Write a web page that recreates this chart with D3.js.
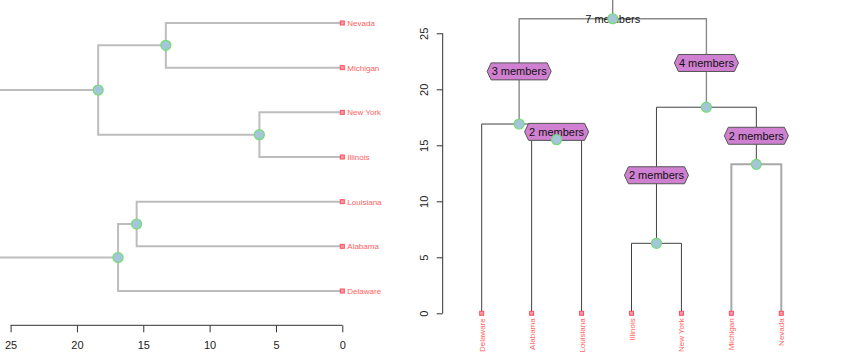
<!DOCTYPE html>
<html>
<head>
<meta charset="utf-8">
<script src="https://cdn.jsdelivr.net/npm/d3@7"></script>
<style>
  body { margin: 0; background: #fff; }
  svg { display: block; font-family: "Liberation Sans", Arial, sans-serif; }
</style>
</head>
<body>
<svg id="chart" width="842" height="353"></svg>
<script>
// ---- data ----
const leaves = ["Delaware", "Alabama", "Louisiana", "Illinois", "New York", "Michigan", "Nevada"];
// merges: [left, right, height]; negative = leaf index (1-based), positive = earlier merge (1-based)
const mergeLeft   = [-4, -6, -2, -1, 1, 4];
const mergeRight  = [-5, -7, -3, 3, 2, 5];
const mergeHeight = [6.25, 13.3, 15.5, 16.9, 18.4, 26.3];
const leftTicks  = [25, 20, 15, 10, 5, 0];
const rightTicks = [0, 5, 10, 15, 20, 25];

// ---- build tree ----
function build(ref) {
  if (ref < 0) return { name: leaves[-ref - 1], height: 0 };
  const i = ref - 1;
  return { name: "m" + ref, height: mergeHeight[i], children: [build(mergeLeft[i]), build(mergeRight[i])] };
}
const rootData = build(mergeHeight.length);
const root = d3.hierarchy(rootData);

const svg = d3.select("#chart");
const labelColor = "#ff6262";

// ================= LEFT PANEL (horizontal) =================
const lx = d3.scaleLinear().domain([0, 25]).range([342.3, 10.6]);
const ly = d3.scalePoint().domain(leaves).range([291, 23]);

function leftPos(n) {
  if (!n.children) { n.lp = [lx(0), ly(n.data.name)]; }
  else {
    n.children.forEach(leftPos);
    n.lp = [lx(n.data.height), d3.mean(n.children, c => c.lp[1])];
  }
}
leftPos(root);

const gL = svg.append("g");
root.descendants().filter(n => n.parent).forEach(n => {
  const p = n.parent;
  gL.append("path")
    .attr("d", `M${p.lp[0]},${p.lp[1]}V${n.lp[1]}H${n.lp[0]}`)
    .attr("fill", "none").attr("stroke", "#bdbdbd").attr("stroke-width", 2);
});
root.descendants().filter(n => n.children).forEach(n => {
  gL.append("circle").attr("cx", n.lp[0]).attr("cy", n.lp[1]).attr("r", 5)
    .attr("fill", "#a3c6d8").attr("stroke", "#74dc74").attr("stroke-width", 1.2);
});
root.leaves().forEach(n => {
  gL.append("rect").attr("x", n.lp[0] - 2).attr("y", n.lp[1] - 2).attr("width", 4).attr("height", 4)
    .attr("fill", "#ff9aa6").attr("stroke", "#ff4d5e").attr("stroke-width", 1);
  gL.append("text").attr("x", n.lp[0] + 5).attr("y", n.lp[1] + 3)
    .attr("font-size", 8).attr("fill", labelColor).text(n.data.name);
});
// left axis
const axL = svg.append("g").attr("transform", "translate(0,325.3)")
  .call(d3.axisBottom(lx).tickValues(leftTicks).tickSize(7).tickPadding(9));
axL.select(".domain").attr("stroke", "#333").attr("d", `M${lx(25)},0H${lx(0)}`);
axL.selectAll(".tick line").attr("stroke", "#333");
axL.selectAll(".tick text").attr("font-size", 11).attr("fill", "#222").attr("font-family", "Liberation Sans, Arial, sans-serif");

// ================= RIGHT PANEL (vertical) =================
const rx = d3.scalePoint().domain(leaves).range([481.7, 781.3]);
const ry = d3.scaleLinear().domain([0, 25]).range([313.3, 33.3]);

function rightPos(n) {
  if (!n.children) { n.rp = [rx(n.data.name), ry(0)]; }
  else {
    n.children.forEach(rightPos);
    n.rp = [d3.mean(n.children, c => c.rp[0]), ry(n.data.height)];
  }
}
rightPos(root);

function edgeStyle(n) {
  if (n.data.name === "Michigan" || n.data.name === "Nevada") return ["#a8a8a8", 2];
  if (n.parent && !n.parent.parent) return ["#8a8a8a", 1.4];
  return ["#404040", 1];
}

const gR = svg.append("g");
// root stem
gR.append("line").attr("x1", root.rp[0]).attr("x2", root.rp[0]).attr("y1", 0).attr("y2", root.rp[1])
  .attr("stroke", "#555").attr("stroke-width", 1);
root.descendants().filter(n => n.parent).forEach(n => {
  const p = n.parent;
  const [c, w] = edgeStyle(n);
  gR.append("path")
    .attr("d", `M${p.rp[0]},${p.rp[1]}H${n.rp[0]}V${n.rp[1]}`)
    .attr("fill", "none").attr("stroke", c).attr("stroke-width", w);
});

// edge labels
function hexLabel(g, x, y, txt) {
  const grp = g.append("g").attr("transform", `translate(${x},${y})`);
  const poly = grp.append("path");
  const t = grp.append("text").attr("text-anchor", "middle").attr("y", 4)
    .attr("font-size", 11).attr("fill", "#111").text(txt);
  const w = t.node().getComputedTextLength() + 9, h = 17, k = 4;
  poly.attr("d", `M${-w/2},0L${-w/2+k},${-h/2}H${w/2-k}L${w/2},0L${w/2-k},${h/2}H${-w/2+k}Z`)
    .attr("fill", "#cf80d0").attr("stroke", "#555").attr("stroke-width", 1);
}
root.descendants().filter(n => n.parent && n.children).forEach(n => {
  const y = (n.parent.rp[1] + n.rp[1]) / 2;
  hexLabel(gR, n.rp[0], y, n.leaves().length + " members");
});
gR.append("text").attr("x", root.rp[0]).attr("y", root.rp[1] + 4).attr("text-anchor", "middle")
  .attr("font-size", 11).attr("fill", "#111").text(root.leaves().length + " members");

root.descendants().filter(n => n.children).forEach(n => {
  gR.append("circle").attr("cx", n.rp[0]).attr("cy", n.rp[1]).attr("r", 5)
    .attr("fill", "#a3c6d8").attr("stroke", "#74dc74").attr("stroke-width", 1.2);
});
root.leaves().forEach(n => {
  gR.append("rect").attr("x", n.rp[0] - 2).attr("y", n.rp[1] - 2).attr("width", 4).attr("height", 4)
    .attr("fill", "#ff9aa6").attr("stroke", "#ff4d5e").attr("stroke-width", 1);
  gR.append("text").attr("transform", `translate(${n.rp[0] + 3},${n.rp[1] + 5}) rotate(-90)`)
    .attr("text-anchor", "end").attr("font-size", 8).attr("fill", labelColor).text(n.data.name);
});

// right axis
const axR = svg.append("g").attr("transform", "translate(442.7,0)")
  .call(d3.axisLeft(ry).tickValues(rightTicks).tickSize(6).tickFormat(d3.format("d")));
axR.select(".domain").attr("stroke", "#333").attr("d", `M0,${ry(0)}V${ry(25)}`);
axR.selectAll(".tick line").attr("stroke", "#333");
axR.selectAll(".tick text")
  .attr("x", null).attr("dy", null)
  .attr("text-anchor", "middle")
  .attr("transform", "translate(-15,0) rotate(-90)")
  .attr("font-size", 11).attr("fill", "#222").attr("font-family", "Liberation Sans, Arial, sans-serif");
</script>
</body>
</html>
